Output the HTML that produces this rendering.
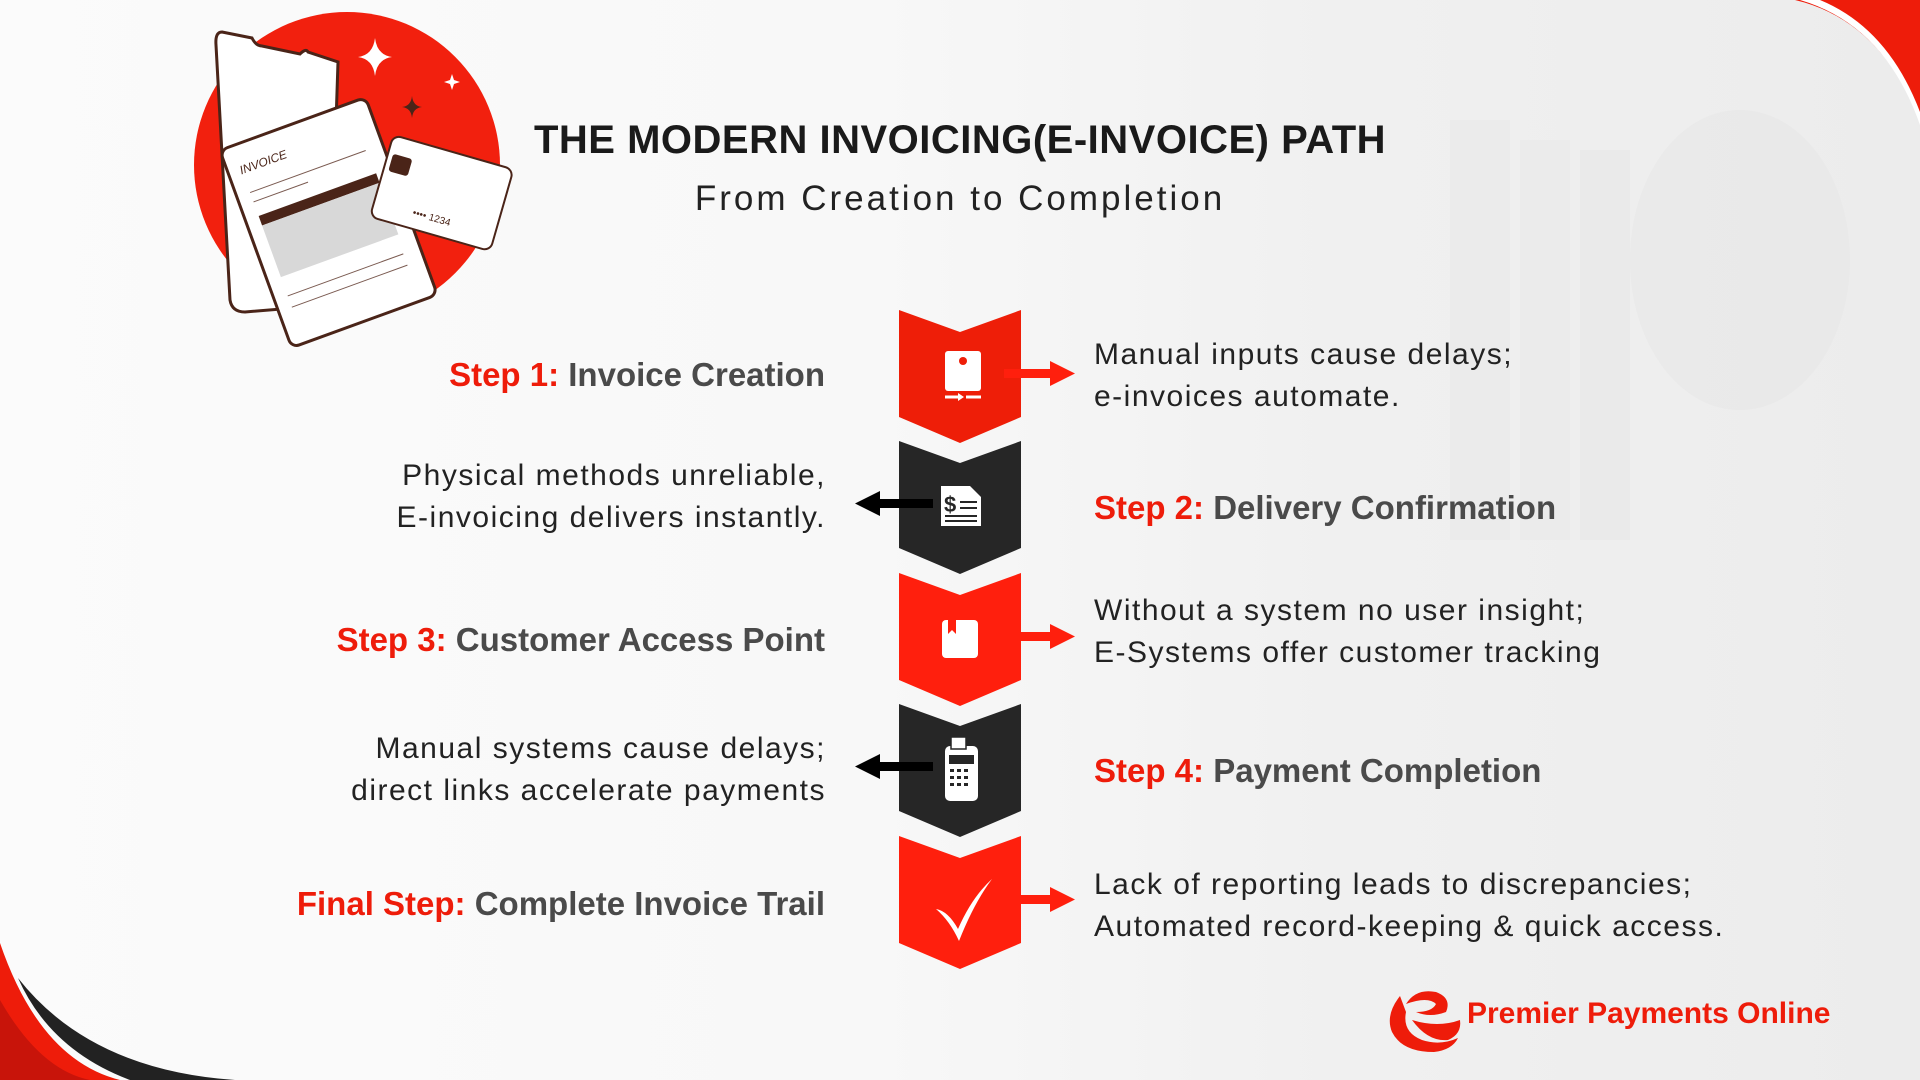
<!DOCTYPE html>
<html><head><meta charset="utf-8"><style>
html,body{margin:0;padding:0}
body{width:1920px;height:1080px;overflow:hidden;position:relative;background:linear-gradient(90deg,#fbfbfb 0%,#f8f8f8 45%,#f0f0f0 70%,#ececec 100%);font-family:"Liberation Sans",sans-serif}
.t{position:absolute;white-space:nowrap}
.step{font-weight:bold;font-size:33px;color:#4a4a4a;text-align:right;right:1095px}
.step b{color:#ee1c0a}
.stepR{font-weight:bold;font-size:33px;color:#4a4a4a;left:1094px}
.stepR b{color:#ee1c0a}
.d{font-size:30px;color:#222;line-height:42px;letter-spacing:1.5px}
.dl{text-align:right;right:1094px}
.dr{left:1094px}
</style></head><body>
<svg width="1920" height="1080" style="position:absolute;left:0;top:0">
 <rect x="1450" y="120" width="60" height="420" fill="#e8e8e8" opacity=".5"/>
 <rect x="1520" y="140" width="50" height="400" fill="#e8e8e8" opacity=".5"/>
 <rect x="1580" y="150" width="50" height="390" fill="#e6e6e6" opacity=".5"/>
 <ellipse cx="1740" cy="260" rx="110" ry="150" fill="#e6e6e6" opacity=".5"/>
 <path d="M1795 0 Q1880 20 1920 120 L1920 0 Z" fill="#ee1c0a"/>
 <path d="M1800 0 Q1885 25 1920 125 L1920 112 Q1888 28 1820 0 Z" fill="#fff"/>
 <path d="M0 943 Q40 1060 120 1080 L0 1080 Z" fill="#ee1c0a"/>
 <path d="M0 1000 Q40 1070 90 1080 L0 1080 Z" fill="#c8140a"/>
 <path d="M18 978 Q90 1070 235 1080 L130 1080 Q50 1050 18 978 Z" fill="#222"/>
 <!-- illustration -->
 <circle cx="347" cy="165" r="153" fill="#f2200e"/>
 <path d="M222 32 L252 38 Q256 46 262 46 L300 54 Q306 48 308 52 L338 62 L330 305 L245 312 Q232 312 230 300 L216 45 Q215 32 222 32Z" fill="#fff" stroke="#4a2418" stroke-width="3"/>
 <g transform="rotate(-20 320 215)">
  <rect x="248" y="120" width="155" height="210" rx="8" fill="#fff" stroke="#4a2418" stroke-width="3"/>
  <text x="260" y="150" font-size="12" fill="#4a2418" font-family="Liberation Sans" font-style="italic">INVOICE</text>
  <rect x="262" y="195" width="125" height="10" fill="#4a2418"/>
  <rect x="262" y="205" width="125" height="55" fill="#d8d8d8"/>
  <line x1="262" y1="170" x2="385" y2="170" stroke="#7a5a50"/><line x1="262" y1="180" x2="320" y2="180" stroke="#7a5a50"/>
  <line x1="262" y1="280" x2="385" y2="280" stroke="#7a5a50"/><line x1="262" y1="292" x2="385" y2="292" stroke="#7a5a50"/>
 </g>
 <g transform="rotate(16 440 190)">
  <rect x="380" y="150" width="125" height="85" rx="8" fill="#fff" stroke="#4a2418" stroke-width="2"/>
  <rect x="385" y="168" width="20" height="18" rx="3" fill="#4a2418"/>
  <text x="420" y="222" font-size="10" fill="#4a2418" font-family="Liberation Sans">•••• 1234</text>
 </g>
 <path d="M375 38 Q377 55 392 57 Q377 59 375 76 Q373 59 358 57 Q373 55 375 38Z" fill="#fff"/>
 <path d="M452 74 L454 80 L460 82 L454 84 L452 90 L450 84 L444 82 L450 80Z" fill="#fff"/>
 <path d="M412 96 Q413 106 422 107 Q413 108 412 118 Q411 108 402 107 Q411 106 412 96Z" fill="#4a2418"/>
 <!-- chevrons -->
 <g transform="translate(899,310)"><path d="M0 0 L61 22 L122 0 L122 107 L61 133 L0 107Z" fill="#ee1e08"/></g>
 <g transform="translate(899,441)"><path d="M0 0 L61 22 L122 0 L122 107 L61 133 L0 107Z" fill="#262626"/></g>
 <g transform="translate(899,573)"><path d="M0 0 L61 22 L122 0 L122 107 L61 133 L0 107Z" fill="#ff1f0d"/></g>
 <g transform="translate(899,704)"><path d="M0 0 L61 22 L122 0 L122 107 L61 133 L0 107Z" fill="#262626"/></g>
 <g transform="translate(899,836)"><path d="M0 0 L61 22 L122 0 L122 107 L61 133 L0 107Z" fill="#ff1f0d"/></g>
 <!-- icons -->
 <g transform="translate(0,18)">
  <rect x="945" y="333" width="36" height="40" rx="3" fill="#fff"/><circle cx="963" cy="343" r="4" fill="#ee1e08"/>
  <path d="M945 379 L960 379 M966 379 L981 379" stroke="#fff" stroke-width="3"/><path d="M958 375 L964 379 L958 383Z" fill="#fff"/>
 </g>
 <g transform="translate(0,50)">
  <path d="M941 436 L970 436 L981 447 L981 476 L941 476Z" fill="#fff"/>
  <text x="944" y="462" font-size="22" font-weight="bold" fill="#262626" font-family="Liberation Sans">$</text>
  <path d="M960 452 H977 M960 458 H977 M945 466 H977 M945 471 H977" stroke="#262626" stroke-width="2"/>
 </g>
 <g transform="translate(0,84)">
  <rect x="942" y="536" width="36" height="38" rx="4" fill="#fff"/><path d="M948 536 L956 536 L956 550 L952 546 L948 550Z" fill="#ff1f0d"/>
 </g>
 <g transform="translate(0,117)">
  <rect x="945" y="629" width="33" height="55" rx="5" fill="#fff"/><rect x="951" y="620" width="15" height="12" fill="#fff" stroke="#262626" stroke-width="1.5"/>
  <rect x="949" y="638" width="25" height="9" fill="#262626"/>
  <g fill="#262626"><rect x="950" y="652" width="4" height="3"/><rect x="957" y="652" width="4" height="3"/><rect x="964" y="652" width="4" height="3"/><rect x="950" y="659" width="4" height="3"/><rect x="957" y="659" width="4" height="3"/><rect x="964" y="659" width="4" height="3"/><rect x="950" y="666" width="4" height="3"/><rect x="957" y="666" width="4" height="3"/><rect x="964" y="666" width="4" height="3"/></g>
 </g>
 <g transform="translate(0,151)">
  <path d="M936 758 Q948 760 958 778 Q972 746 992 728 Q974 752 959 790 Q950 770 936 758Z" fill="#fff"/>
 </g>
 <!-- arrows -->
 <g fill="#ff1f0d">
  <rect x="1004" y="369" width="48" height="9"/><path d="M1050 361 L1075 373.5 L1050 386Z"/>
  <rect x="1021" y="632" width="31" height="9"/><path d="M1050 624 L1075 636.5 L1050 649Z"/>
  <rect x="1021" y="895" width="31" height="9"/><path d="M1050 887 L1075 899.5 L1050 912Z"/>
 </g>
 <g fill="#000">
  <rect x="878" y="499" width="55" height="9"/><path d="M880 491 L855 503.5 L880 516Z"/>
  <rect x="878" y="762" width="55" height="9"/><path d="M880 754 L855 766.5 L880 779Z"/>
 </g>
 <!-- logo -->
 <path d="M1400 996 Q1385 1015 1392 1032 Q1402 1052 1434 1052 Q1452 1050 1458 1038 Q1440 1046 1422 1040 Q1402 1032 1406 1012Z" fill="#ee1c0a"/>
 <path d="M1406 1004 Q1416 988 1436 992 Q1452 998 1446 1012 Q1430 1018 1416 1012 Q1432 1012 1436 1004 Q1428 996 1406 1004Z" fill="#ee1c0a"/>
 <path d="M1412 1020 Q1438 1028 1460 1020 Q1462 1034 1448 1040 Q1428 1042 1412 1020Z" fill="#ee1c0a"/>
</svg>
<div class="t" style="left:460px;top:118px;font-size:40px;font-weight:bold;color:#1a1a1a;width:1000px;text-align:center;letter-spacing:0.5px">THE MODERN INVOICING(E-INVOICE) PATH</div>
<div class="t" style="left:460px;top:179px;font-size:35px;color:#222;width:1000px;text-align:center;letter-spacing:3px">From Creation to Completion</div>

<div class="t step" style="top:356px"><b>Step 1:</b> Invoice Creation</div>
<div class="t d dr" style="top:334px">Manual inputs cause delays;<br>e-invoices automate.</div>

<div class="t d dl" style="top:455px">Physical methods unreliable,<br>E-invoicing delivers instantly.</div>
<div class="t stepR" style="top:489px"><b>Step 2:</b> Delivery Confirmation</div>

<div class="t step" style="top:621px"><b>Step 3:</b> Customer Access Point</div>
<div class="t d dr" style="top:590px">Without a system no user insight;<br>E-Systems offer customer tracking</div>

<div class="t d dl" style="top:728px">Manual systems cause delays;<br>direct links accelerate payments</div>
<div class="t stepR" style="top:752px"><b>Step 4:</b> Payment Completion</div>

<div class="t step" style="top:885px"><b>Final Step:</b> Complete Invoice Trail</div>
<div class="t d dr" style="top:864px">Lack of reporting leads to discrepancies;<br>Automated record-keeping &amp; quick access.</div>

<div class="t" style="left:1467px;top:997px;font-size:30px;font-weight:bold;color:#ee1c0a">Premier Payments Online</div>
</body></html>
